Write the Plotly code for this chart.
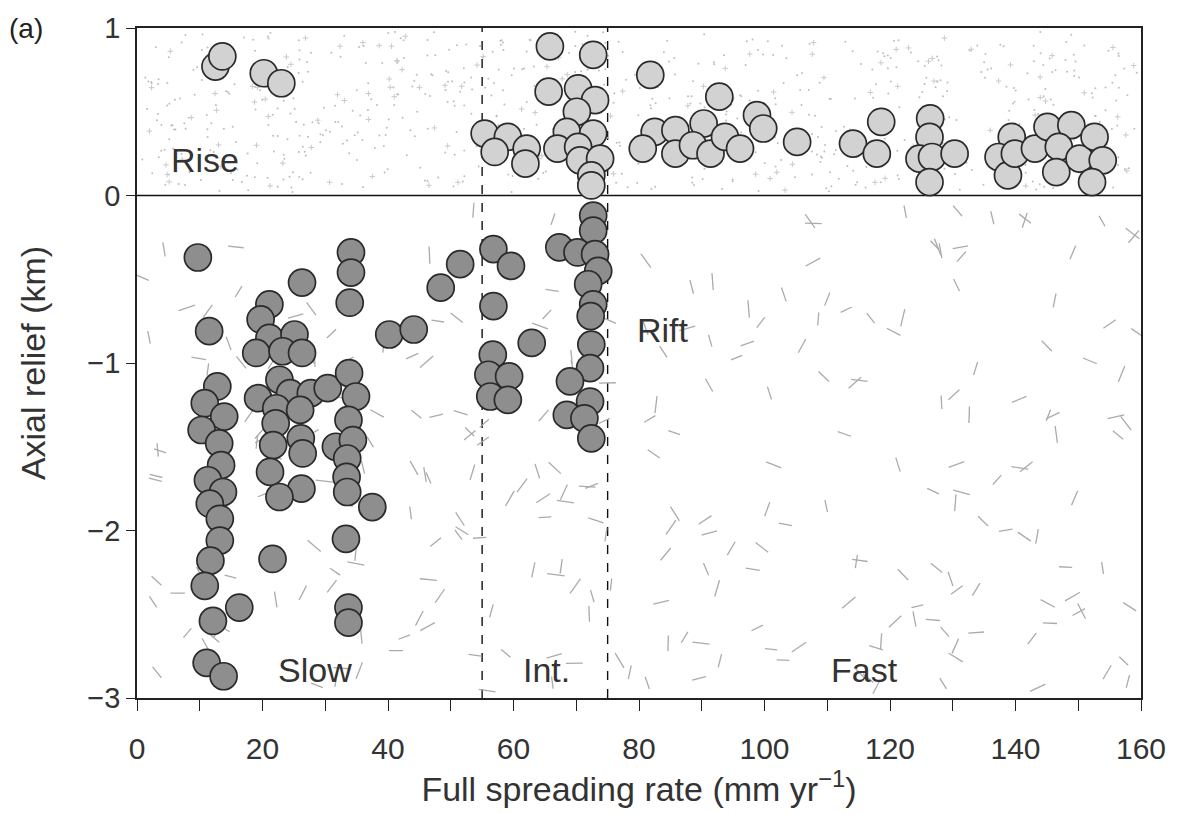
import numpy as np
import plotly.graph_objects as go

# Full spreading rate (mm/yr) and axial relief (km)
rise_rate = [12.5, 13.6, 20.2, 23.0,
             55.4, 59.1, 57.0, 62.1, 61.9, 65.8, 72.7, 65.6, 70.3, 73.0, 70.1,
             68.5, 72.7, 67.0, 70.3, 70.6, 73.8, 72.4, 72.4,
             81.8, 92.8, 82.5, 80.6, 85.8, 85.8, 90.3, 88.6, 91.4, 93.7, 96.1,
             98.8, 99.8, 105.2, 114.1, 118.6, 117.9, 126.4, 126.3, 124.7, 126.7,
             130.3, 126.3, 139.4, 137.3, 138.8, 139.9, 143.1, 145.1, 148.9,
             146.9, 146.5, 150.2, 152.6, 153.9, 152.2]
rise_relief = [0.77, 0.83, 0.73, 0.67,
               0.37, 0.35, 0.26, 0.28, 0.19, 0.89, 0.84, 0.62, 0.64, 0.57, 0.50,
               0.38, 0.37, 0.28, 0.29, 0.21, 0.22, 0.12, 0.06,
               0.72, 0.59, 0.38, 0.28, 0.39, 0.25, 0.43, 0.30, 0.25, 0.35, 0.28,
               0.48, 0.40, 0.32, 0.31, 0.44, 0.25, 0.46, 0.35, 0.22, 0.23,
               0.25, 0.08, 0.35, 0.23, 0.12, 0.25, 0.28, 0.41, 0.42,
               0.29, 0.14, 0.22, 0.35, 0.21, 0.08]

rift_rate = [9.7, 11.5, 34.1, 34.1, 33.9, 26.3,
             21.1, 19.7, 21.1, 25.1, 19.0, 23.2, 26.3,
             40.2, 44.1, 48.4, 51.5,
             12.8, 10.8, 13.9, 10.3, 13.1, 13.4, 11.3, 13.7, 11.6, 13.2, 13.2,
             11.7, 10.8, 12.1, 16.3, 11.1, 13.8,
             22.7, 19.3, 24.4, 27.7, 30.4, 33.8, 34.9, 22.2, 26.0, 33.7, 22.1,
             21.7, 26.1, 26.4, 31.7, 34.4, 33.5, 21.2, 33.4, 26.2, 22.7, 33.5,
             37.5, 33.3, 21.6, 33.7, 33.7,
             56.8, 59.6, 56.8, 62.9, 56.7, 56.0, 59.3, 56.3, 59.1, 67.3, 70.2,
             72.7, 72.7, 73.0, 73.5, 71.9, 72.7, 72.3, 72.4, 72.2, 69.0, 72.2,
             68.5, 71.3, 72.4]
rift_relief = [-0.37, -0.81, -0.34, -0.46, -0.64, -0.52,
               -0.65, -0.74, -0.85, -0.83, -0.94, -0.93, -0.94,
               -0.83, -0.80, -0.55, -0.41,
               -1.14, -1.24, -1.32, -1.40, -1.48, -1.61, -1.70, -1.77, -1.84,
               -1.93, -2.06, -2.18, -2.33, -2.54, -2.46, -2.79, -2.87,
               -1.10, -1.21, -1.18, -1.18, -1.15, -1.06, -1.20, -1.27, -1.28,
               -1.34, -1.36, -1.49, -1.45, -1.54, -1.50, -1.46, -1.57, -1.65,
               -1.68, -1.75, -1.80, -1.77, -1.86, -2.05, -2.17, -2.46, -2.55,
               -0.32, -0.42, -0.66, -0.88, -0.95, -1.07, -1.08, -1.20, -1.22,
               -0.31, -0.34, -0.12, -0.21, -0.35, -0.45, -0.53, -0.65, -0.72,
               -0.89, -1.03, -1.11, -1.23, -1.31, -1.33, -1.45]

# Spreading-rate class boundaries (mm/yr)
class_bounds = [55, 75]

y_tick_vals = [1, 0, -1, -2, -3]

X_RANGE = [0, 160]
Y_RANGE = [-3, 1]
PLOT_W, PLOT_H = 1008, 678

FONT = "Liberation Sans, Arial, Helvetica, sans-serif"
TEXT_COLOR = "#333"

fig = go.Figure()

# --- background textures: stipple above zero, scattered dashes below ---
tex = np.random.default_rng(11)
n_dots = 650
fig.add_trace(go.Scatter(x=tex.uniform(0.5, 159.5, n_dots),
                         y=tex.uniform(0.02, 0.98, n_dots), mode="markers",
                         marker=dict(size=2.0, color="#bdbdbd", line=dict(width=0)),
                         hoverinfo="skip", showlegend=False))
n_cross = 130
fig.add_trace(go.Scatter(x=tex.uniform(0.5, 159.5, n_cross),
                         y=tex.uniform(0.03, 0.97, n_cross), mode="markers",
                         marker=dict(symbol="cross-thin", size=4,
                                     line=dict(width=1, color="#cacaca")),
                         hoverinfo="skip", showlegend=False))

px_per_x = PLOT_W / (X_RANGE[1] - X_RANGE[0])
px_per_y = PLOT_H / (Y_RANGE[1] - Y_RANGE[0])
n_dash = 280
cx = tex.uniform(0.5, 159.5, n_dash)
cy = tex.uniform(-2.97, -0.06, n_dash)
ang = tex.uniform(0, np.pi, n_dash)
half = tex.uniform(6, 9, n_dash)
seg_x, seg_y = [], []
for a, b, t, h in zip(cx, cy, ang, half):
    dx = h * np.cos(t) / px_per_x
    dy = h * np.sin(t) / px_per_y
    seg_x += [a - dx, a + dx, None]
    seg_y += [b - dy, b + dy, None]
fig.add_trace(go.Scatter(x=seg_x, y=seg_y, mode="lines",
                         line=dict(color="#ababab", width=1.3),
                         hoverinfo="skip", showlegend=False))

# --- data ---
fig.add_trace(go.Scatter(x=rise_rate, y=rise_relief, mode="markers", name="Rise",
                         marker=dict(size=27, color="#d2d2d2",
                                     line=dict(color="#2a2a2a", width=1.7)),
                         showlegend=False))
fig.add_trace(go.Scatter(x=rift_rate, y=rift_relief, mode="markers", name="Rift",
                         marker=dict(size=27, color="#8e8e8e",
                                     line=dict(color="#2a2a2a", width=1.7)),
                         showlegend=False))

# class boundaries and zero line
for xb in class_bounds:
    fig.add_shape(type="line", x0=xb, x1=xb, y0=Y_RANGE[0], y1=Y_RANGE[1],
                  xref="x", yref="y", layer="below",
                  line=dict(color="#111", width=1.4, dash="dash"))
fig.add_shape(type="line", x0=X_RANGE[0], x1=X_RANGE[1], y0=0, y1=0,
              xref="x", yref="y", layer="below",
              line=dict(color="#111", width=1.6))

label_font = dict(family=FONT, size=34, color=TEXT_COLOR)
region_labels = [("Rise", 10.8, 0.21), ("Rift", 83.8, -0.80),
                 ("Slow", 28.4, -2.83), ("Int.", 65.2, -2.83), ("Fast", 116.0, -2.83)]
for txt, lx, ly in region_labels:
    fig.add_annotation(x=lx, y=ly, text=txt, showarrow=False, font=label_font,
                       xref="x", yref="y")

fig.add_annotation(x=-0.111, y=1.0, xref="paper", yref="paper", text="(a)",
                   showarrow=False, xanchor="center", yanchor="middle",
                   font=dict(family=FONT, size=28, color="#222"))

axis_line = dict(showline=True, linecolor="#222", linewidth=1.6, mirror=True,
                 ticks="outside", tickcolor="#222", tickwidth=1.4,
                 showgrid=False, zeroline=False)

fig.update_xaxes(range=X_RANGE, tickmode="linear", tick0=0, dtick=20,
                 ticklen=11, ticklabelstandoff=12,
                 minor=dict(dtick=10, ticks="outside", ticklen=11, tickwidth=1.4,
                            tickcolor="#222", showgrid=False),
                 tickfont=dict(family=FONT, size=30, color=TEXT_COLOR),
                 title=dict(text="Full spreading rate (mm yr<sup>−1</sup>)",
                            font=dict(family=FONT, size=34, color=TEXT_COLOR),
                            standoff=0),
                 **axis_line)
fig.update_yaxes(range=Y_RANGE, tickvals=y_tick_vals, ticklen=9,
                 tickfont=dict(family=FONT, size=29, color=TEXT_COLOR),
                 title=dict(text="Axial relief (km)",
                            font=dict(family=FONT, size=34, color=TEXT_COLOR),
                            standoff=31),
                 **axis_line)

fig.update_layout(width=1178, height=814,
                  margin=dict(l=137, r=33, t=20, b=116, pad=0),
                  plot_bgcolor="white", paper_bgcolor="white",
                  showlegend=False)

fig.write_html("out.html")
